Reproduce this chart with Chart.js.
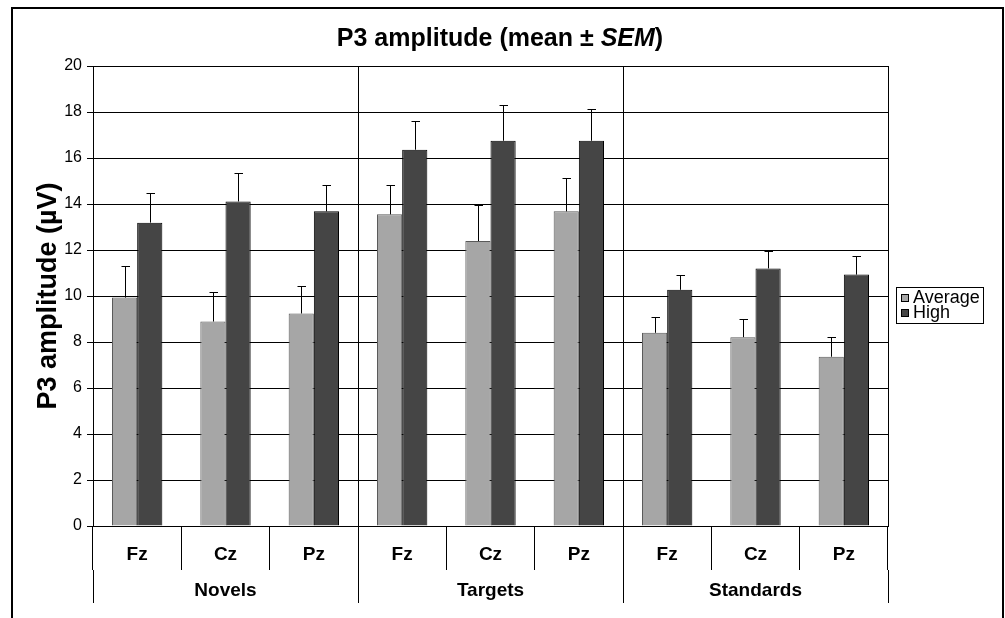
<!DOCTYPE html>
<html>
<head>
<meta charset="utf-8">
<script src="https://cdn.jsdelivr.net/npm/chart.js@4.4.1/dist/chart.umd.min.js"></script>
<style>
  html, body { margin: 0; padding: 0; background: #fff; }
  #wrap { position: relative; width: 1005px; height: 618px; overflow: hidden; }
  #c { position: absolute; left: 0; top: 0; }
  #frame { position: absolute; left: 11px; top: 7px; width: 989px; height: 640px;
           border: 2px solid #000; border-bottom: none; pointer-events: none; }
  #title { position: absolute; left: 0; top: 22px; width: 1000px; text-align: center;
           font-family: "Liberation Sans", Arial, sans-serif; font-weight: bold;
           font-size: 25px; line-height: 30px; color: #000; }
</style>
</head>
<body>
<div id="wrap">
  <canvas id="c" width="1005" height="618"></canvas>
  <div id="frame"></div>
  <div id="title">P3 amplitude (mean ± <i>SEM</i>)</div>
</div>
<script>
// ---- data ----
const electrodes = ["Fz", "Cz", "Pz", "Fz", "Cz", "Pz", "Fz", "Cz", "Pz"];
const conditions = ["Novels", "Targets", "Standards"];
const seriesNames = ["Average", "High"];
const averageMean = [9.93, 8.89, 9.24, 13.55, 12.39, 13.68, 8.40, 8.21, 7.36];
const averageSem  = [1.37, 1.28, 1.19, 1.27, 1.57, 1.45, 0.68, 0.77, 0.87];
const highMean    = [13.19, 14.11, 13.68, 16.36, 16.75, 16.75, 10.27, 11.20, 10.93];
const highSem     = [1.30, 1.25, 1.16, 1.26, 1.55, 1.37, 0.66, 0.74, 0.79];
const yTicksMin = 0, yTicksMax = 20, yTicksStep = 2;

const FONT = "'Liberation Sans', Arial, sans-serif";

const errorBars = {
  id: 'errorBars',
  afterDatasetsDraw(chart) {
    const ctx = chart.ctx;
    const ys = chart.scales.y;
    chart.data.datasets.forEach((ds, di) => {
      const meta = chart.getDatasetMeta(di);
      meta.data.forEach((el, i) => {
        const top = Math.round(ys.getPixelForValue(ds.data[i] + ds.sem[i])) + 0.5;
        const x = Math.round(el.x) + 0.5;
        ctx.save();
        ctx.strokeStyle = '#000';
        ctx.lineWidth = 1;
        ctx.beginPath();
        ctx.moveTo(x, el.y);
        ctx.lineTo(x, top);
        ctx.moveTo(x - 4, top);
        ctx.lineTo(x + 4.5, top);
        ctx.stroke();
        ctx.restore();
      });
    });
  }
};

// legend drawn in a framed box to the right of the plot, from the datasets
const boxLegend = {
  id: 'boxLegend',
  afterDraw(chart) {
    const ctx = chart.ctx, ca = chart.chartArea;
    const fontSize = 18, rowH = 15, sw = 8;
    ctx.save();
    ctx.font = fontSize + 'px ' + FONT;
    const items = chart.data.datasets.map(d => ({ text: d.label, fill: d.backgroundColor }));
    const textW = Math.max(...items.map(it => ctx.measureText(it.text).width));
    const left = Math.round(ca.right + 8);
    const w = Math.round(5 + sw + 4 + textW + 3);
    const h = rowH * items.length + 6;
    const cy = (ca.top + ca.bottom) / 2 + 9;
    const top = Math.round(cy - h / 2);
    ctx.fillStyle = '#fff';
    ctx.fillRect(left, top, w, h);
    ctx.strokeStyle = '#000';
    ctx.lineWidth = 1;
    ctx.strokeRect(left + 0.5, top + 0.5, w, h);
    items.forEach((it, i) => {
      const rc = top + 3 + rowH * i + rowH / 2;
      const sy = Math.round(rc - sw / 2);
      ctx.fillStyle = it.fill;
      ctx.fillRect(left + 5, sy, sw, sw);
      ctx.strokeStyle = '#000';
      ctx.strokeRect(left + 5.5, sy + 0.5, sw - 1, sw - 1);
      ctx.fillStyle = '#000';
      ctx.textBaseline = 'middle';
      ctx.textAlign = 'left';
      ctx.fillText(it.text, left + 5 + sw + 4, rc + 1);
    });
    ctx.restore();
  }
};

new Chart(document.getElementById('c'), {
  type: 'bar',
  data: {
    labels: electrodes,
    datasets: [
      { label: seriesNames[0], data: averageMean, sem: averageSem,
        backgroundColor: '#a6a6a6', borderColor: '#5a5a5a', borderWidth: 1 },
      { label: seriesNames[1], data: highMean, sem: highSem,
        backgroundColor: '#454545', borderColor: '#000', borderWidth: 1 }
    ]
  },
  options: {
    responsive: false,
    animation: false,
    devicePixelRatio: 1,
    categoryPercentage: 0.57,
    barPercentage: 1.0,
    layout: { padding: { top: 66, right: 117, bottom: 0, left: 0 } },
    plugins: {
      title: { display: false },
      tooltip: { enabled: false },
      legend: { display: false }
    },
    scales: {
      y: {
        min: yTicksMin, max: yTicksMax,
        ticks: { stepSize: yTicksStep, color: '#000', padding: 5, font: { family: FONT, size: 16 } },
        grid: { color: '#000', lineWidth: 1, tickLength: 6 },
        border: { color: '#000', width: 1 },
        title: { display: true, text: 'P3 amplitude (µV)', color: '#000',
                 font: { family: FONT, size: 27, weight: 'bold', lineHeight: 1.2 },
                 padding: { top: 32, bottom: 0 } },
        afterFit(s) { s.width = 93; }
      },
      x: {
        type: 'category', offset: true, weight: 0,
        grid: { offset: true, drawOnChartArea: false, drawTicks: true, tickLength: 44, color: '#000' },
        border: { display: true, color: '#000' },
        ticks: { color: '#000', maxRotation: 0, autoSkip: false, padding: -27,
                 font: { family: FONT, size: 19, weight: 'bold', lineHeight: 1.2 } },
        afterFit(s) { s.height = 44; }
      },
      x2: {
        type: 'category', labels: conditions, offset: true, position: 'bottom', weight: 1,
        grid: { offset: true, drawOnChartArea: true, drawTicks: true, tickLength: 33, color: '#000' },
        border: { display: false },
        ticks: { color: '#000', maxRotation: 0, autoSkip: false, padding: -24,
                 font: { family: FONT, size: 19, weight: 'bold', lineHeight: 1.2 } },
        afterFit(s) { s.height = 48; }
      }
    }
  },
  plugins: [errorBars, boxLegend]
});
</script>
</body>
</html>
